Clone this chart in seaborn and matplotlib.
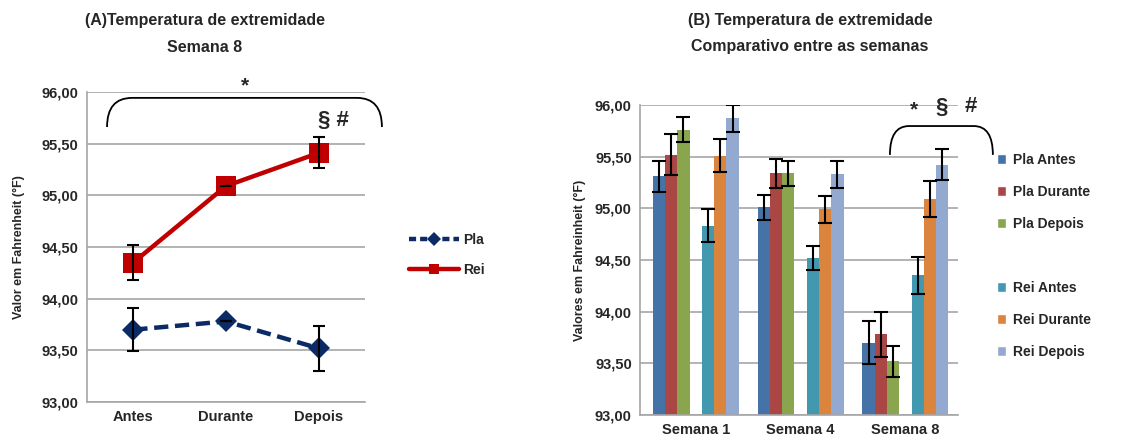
import numpy as np
import pandas as pd
import matplotlib.pyplot as plt
import seaborn as sns
from matplotlib.path import Path
from matplotlib.patches import PathPatch, Patch
from matplotlib.lines import Line2D

# ---- data: panel A (Semana 8) ----
momentos = ['Antes', 'Durante', 'Depois']
pla_s8 = [93.70, 93.78, 93.52]
pla_s8_err = [0.21, 0.0, 0.22]
rei_s8 = [94.35, 95.09, 95.41]
rei_s8_err = [0.17, 0.0, 0.15]

# ---- data: panel B (comparativo entre semanas) ----
semanas = ['Semana 1', 'Semana 4', 'Semana 8']
series = ['Pla Antes', 'Pla Durante', 'Pla Depois', 'Rei Antes', 'Rei Durante', 'Rei Depois']
pla_antes = [95.31, 95.01, 93.70]
pla_durante = [95.52, 95.34, 93.78]
pla_depois = [95.76, 95.34, 93.52]
rei_antes = [94.83, 94.52, 94.35]
rei_durante = [95.51, 94.99, 95.09]
rei_depois = [95.87, 95.33, 95.42]
pla_antes_err = [0.15, 0.12, 0.21]
pla_durante_err = [0.20, 0.14, 0.22]
pla_depois_err = [0.12, 0.12, 0.15]
rei_antes_err = [0.16, 0.12, 0.18]
rei_durante_err = [0.16, 0.13, 0.17]
rei_depois_err = [0.13, 0.13, 0.15]

cores = ['#4572A7', '#AA4643', '#89A54E', '#4198AF', '#DB843D', '#93A9CF']

sns.set_style('white')
plt.rcParams['font.family'] = ['Liberation Sans', 'DejaVu Sans']
plt.rcParams['font.weight'] = 'bold'

fig = plt.figure(figsize=(11.23, 4.41), dpi=100)
axA = fig.add_axes([0.0775, 0.0884, 0.2475, 0.703])
axB = fig.add_axes([0.570, 0.059, 0.283, 0.703])

grid_col = '#A6A6A6'


def style_axis(ax):
    ax.set_ylim(93, 96)
    ax.set_yticks(np.arange(93, 96.01, 0.5))
    ax.set_yticklabels([f'{v:.2f}'.replace('.', ',') for v in np.arange(93, 96.01, 0.5)])
    ax.grid(axis='y', color=grid_col, linewidth=1.2)
    ax.set_axisbelow(True)
    for s in ['top', 'right']:
        ax.spines[s].set_visible(False)
    for s in ['left', 'bottom']:
        ax.spines[s].set_color(grid_col)
        ax.spines[s].set_linewidth(1.2)
    ax.tick_params(length=0, labelsize=10.5, pad=6)
    for lab in ax.get_xticklabels() + ax.get_yticklabels():
        lab.set_fontweight('bold')


# ---- panel A ----
dfA = pd.DataFrame({
    'momento': momentos * 2,
    'valor': pla_s8 + rei_s8,
    'grupo': ['Pla'] * 3 + ['Rei'] * 3,
})
sns.lineplot(data=dfA, x='momento', y='valor', hue='grupo', style='grupo',
             palette={'Pla': '#0B2A66', 'Rei': '#C00000'},
             dashes={'Pla': (3.2, 1.5), 'Rei': ''},
             markers={'Pla': 'D', 'Rei': 's'},
             markersize=11, markeredgewidth=0, linewidth=3.2,
             sort=False, legend=False, ax=axA)
# square markers a bit bigger than diamonds
for ln in axA.get_lines():
    if ln.get_marker() == 's':
        ln.set_markersize(14)
axA.errorbar(momentos, pla_s8, yerr=pla_s8_err, fmt='none', ecolor='black',
             elinewidth=1.5, capsize=4.5, capthick=1.5, zorder=5)
axA.errorbar(momentos, rei_s8, yerr=rei_s8_err, fmt='none', ecolor='black',
             elinewidth=1.5, capsize=4.5, capthick=1.5, zorder=5)
axA.set_xlim(-0.5, 2.5)
axA.set_xlabel('')
axA.set_ylabel('Valor em Fahrenheit (°F)', fontsize=9, fontweight='bold', labelpad=12)
style_axis(axA)


def bracket(ax, x0, x1, ytop, ybot, r):
    verts = [(x0, ybot), (x0, ytop), (x0 + r, ytop), (x1 - r, ytop), (x1, ytop), (x1, ybot)]
    codes = [Path.MOVETO, Path.CURVE3, Path.CURVE3, Path.LINETO, Path.CURVE3, Path.CURVE3]
    ax.add_patch(PathPatch(Path(verts, codes), fill=False, lw=1.3, color='black',
                           transform=ax.transAxes, clip_on=False))


bracket(axA, 0.072, 1.061, 0.981, 0.887, 0.09)
fig.text(245 / 1123, 1 - 86 / 441, '*', ha='center', va='center', fontsize=15, fontweight='bold')
fig.text(333 / 1123, 1 - 120 / 441, '§ #', ha='center', va='center', fontsize=16, fontweight='bold')

fig.text(205 / 1123, 1 - 21 / 441, '(A)Temperatura de extremidade', ha='center', va='center',
         fontsize=11.5, fontweight='bold')
fig.text(205 / 1123, 1 - 47 / 441, 'Semana 8', ha='center', va='center',
         fontsize=11.5, fontweight='bold')

handlesA = [
    Line2D([], [], color='#0B2A66', lw=3.2, dashes=(1.6, 0.9), marker='D', markersize=7, markeredgewidth=0),
    Line2D([], [], color='#C00000', lw=3.2, marker='s', markersize=7, markeredgewidth=0),
]
fig.legend(handles=handlesA, labels=['Pla', 'Rei'], loc='center left',
           bbox_to_anchor=(396 / 1123, 1 - 255 / 441), frameon=False,
           handlelength=3.6, labelspacing=1.2, handletextpad=0.3,
           prop={'size': 10, 'weight': 'bold'})

# ---- panel B ----
valores = [pla_antes, pla_durante, pla_depois, rei_antes, rei_durante, rei_depois]
erros = [pla_antes_err, pla_durante_err, pla_depois_err, rei_antes_err, rei_durante_err, rei_depois_err]
linhas = []
for si, s in enumerate(series):
    for wi, w in enumerate(semanas):
        linhas.append({'semana': w, 'serie': s, 'valor': valores[si][wi], 'erro': erros[si][wi]})
dfB = pd.DataFrame(linhas)

hue_order = series[:3] + ['vazio'] + series[3:]
pal = dict(zip(series, cores))
pal['vazio'] = 'white'
sns.barplot(data=dfB, x='semana', y='valor', hue='serie', order=semanas,
            hue_order=hue_order, palette=pal, width=0.82, errorbar=None,
            saturation=1, linewidth=0, legend=False, ax=axB)

# error bars on top of each bar, matched by bar position
bars = sorted([p for p in axB.patches if p.get_height() > 0], key=lambda p: p.get_x())
ordem = dfB.assign(w=dfB['semana'].map(semanas.index), s=dfB['serie'].map(series.index))
ordem = ordem.sort_values(['w', 's'])
for p, (_, row) in zip(bars, ordem.iterrows()):
    axB.errorbar(p.get_x() + p.get_width() / 2, row['valor'], yerr=row['erro'], fmt='none',
                 ecolor='black', elinewidth=1.5, capsize=5, capthick=1.5, zorder=5)

axB.set_xlim(-0.53, 2.5)
axB.set_xlabel('')
axB.set_ylabel('Valores em Fahreinheit (°F)', fontsize=9, fontweight='bold', labelpad=6)
style_axis(axB)

bracket(axB, 0.786, 1.11, 0.932, 0.839, 0.06)
fig.text(914 / 1123, 1 - 110 / 441, '*', ha='center', va='center', fontsize=15, fontweight='bold')
fig.text(942 / 1123, 1 - 107 / 441, '§', ha='center', va='center', fontsize=16, fontweight='bold')
fig.text(971 / 1123, 1 - 107 / 441, '#', ha='center', va='center', fontsize=16, fontweight='bold')

fig.text(810 / 1123, 1 - 21 / 441, '(B) Temperatura de extremidade', ha='center', va='center',
         fontsize=11.5, fontweight='bold')
fig.text(810 / 1123, 1 - 47 / 441, 'Comparativo entre as semanas', ha='center', va='center',
         fontsize=11.5, fontweight='bold')

handlesB = [Patch(facecolor=c) for c in cores[:3]] + [Patch(facecolor='none', edgecolor='none')] + \
           [Patch(facecolor=c) for c in cores[3:]]
labelsB = series[:3] + [''] + series[3:]
fig.legend(handles=handlesB, labels=labelsB, loc='upper left',
           bbox_to_anchor=(984 / 1123, 1 - 140 / 441), frameon=False,
           handlelength=0.7, handleheight=0.7, labelspacing=1.3, handletextpad=0.5,
           prop={'size': 10, 'weight': 'bold'})

plt.savefig('out.png', dpi=100)
